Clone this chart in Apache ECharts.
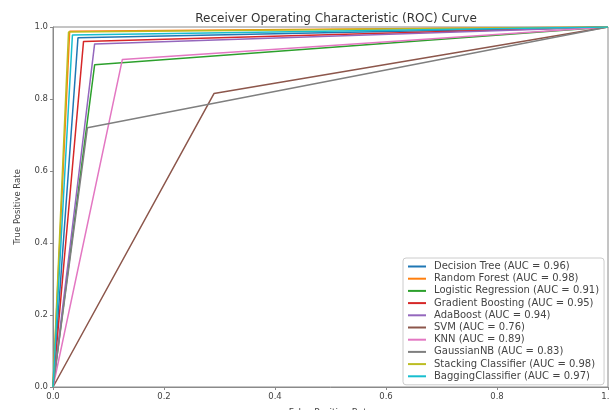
<!DOCTYPE html>
<html>
<head>
<meta charset="utf-8">
<script src="https://cdn.jsdelivr.net/npm/echarts@6/dist/echarts.min.js"></script>
<style>
  html, body { margin: 0; padding: 0; background: #fff; }
  #chart { width: 609px; height: 410px; }
</style>
</head>
<body>
<div id="chart"></div>
<script>
// Classifier results: one ROC operating point per model, plus its AUC
const modelNames = [
  'Decision Tree', 'Random Forest', 'Logistic Regression', 'Gradient Boosting',
  'AdaBoost', 'SVM', 'KNN', 'GaussianNB', 'Stacking Classifier', 'BaggingClassifier'
];
const aucValues = [0.96, 0.98, 0.91, 0.95, 0.94, 0.76, 0.89, 0.83, 0.98, 0.97];
const elbowFpr  = [0.045, 0.030, 0.075, 0.055, 0.075, 0.290, 0.125, 0.062, 0.028, 0.035];
const elbowTpr  = [0.970, 0.988, 0.895, 0.960, 0.953, 0.815, 0.910, 0.720, 0.986, 0.978];
const lineColors = ['#1f77b4', '#ff7f0e', '#2ca02c', '#d62728', '#9467bd',
                    '#8c564b', '#e377c2', '#7f7f7f', '#bcbd22', '#17becf'];
const xTickLabels = ['0.0', '0.2', '0.4', '0.6', '0.8', '1.0'];
const yTickLabels = ['0.0', '0.2', '0.4', '0.6', '0.8', '1.0'];

const tickText = (labels) => (v) => labels[Math.round(v / 0.2)] ?? '';

const series = modelNames.map((name, i) => ({
  name: `${name} (AUC = ${aucValues[i].toFixed(2)})`,
  type: 'line',
  data: [[0, 0], [elbowFpr[i], elbowTpr[i]], [1, 1]],
  showSymbol: false,
  symbol: 'none',
  lineStyle: { width: 1.5, color: lineColors[i] },
  itemStyle: { color: lineColors[i] },
  animation: false,
  z: 2 + i
}));

const chart = echarts.init(document.getElementById('chart'), null, { renderer: 'canvas' });
chart.setOption({
  animation: false,
  backgroundColor: '#ffffff',
  title: {
    text: 'Receiver Operating Characteristic (ROC) Curve',
    left: 331, top: 8, textAlign: 'center',
    textStyle: { fontFamily: 'DejaVu Sans', fontSize: 12, fontWeight: 'normal', color: '#333' }
  },
  grid: {
    left: 53, right: 1, top: 27, bottom: 23,
    outerBoundsMode: 'none', containLabel: false,
    show: true, borderColor: '#8a8a8a', borderWidth: 1, backgroundColor: 'transparent'
  },
  legend: {
    orient: 'vertical',
    left: 403, top: 258,
    icon: 'rect', itemWidth: 18, itemHeight: 2, itemGap: 1.2,
    padding: [3, 5, 3, 5],
    backgroundColor: 'rgba(255,255,255,0.85)',
    borderColor: '#cccccc', borderWidth: 1, borderRadius: 3,
    textStyle: { fontFamily: 'DejaVu Sans', fontSize: 10, color: '#444', lineHeight: 11, padding: [0, 0, 0, 3] },
    data: series.map(s => s.name)
  },
  xAxis: {
    type: 'value', min: 0, max: 1, interval: 0.2,
    name: 'False Positive Rate', nameLocation: 'middle', nameGap: 21,
    nameTextStyle: { fontFamily: 'DejaVu Sans', fontSize: 9, color: '#444' },
    axisLine: { show: true, lineStyle: { color: '#8a8a8a', width: 1 } },
    axisTick: { show: true, length: 3, lineStyle: { color: '#8a8a8a' } },
    axisLabel: { formatter: tickText(xTickLabels), fontFamily: 'DejaVu Sans', fontSize: 8.5, color: '#444', margin: 5 },
    splitLine: { show: false }
  },
  yAxis: {
    type: 'value', min: 0, max: 1, interval: 0.2,
    name: 'True Positive Rate', nameLocation: 'middle', nameGap: 31, nameRotate: 90,
    nameTextStyle: { fontFamily: 'DejaVu Sans', fontSize: 8.5, color: '#444' },
    axisLine: { show: true, lineStyle: { color: '#8a8a8a', width: 1 } },
    axisTick: { show: true, length: 3, lineStyle: { color: '#8a8a8a' } },
    axisLabel: { formatter: tickText(yTickLabels), fontFamily: 'DejaVu Sans', fontSize: 8.5, color: '#444', margin: 5 },
    splitLine: { show: false }
  },
  series: series
});
</script>
</body>
</html>
